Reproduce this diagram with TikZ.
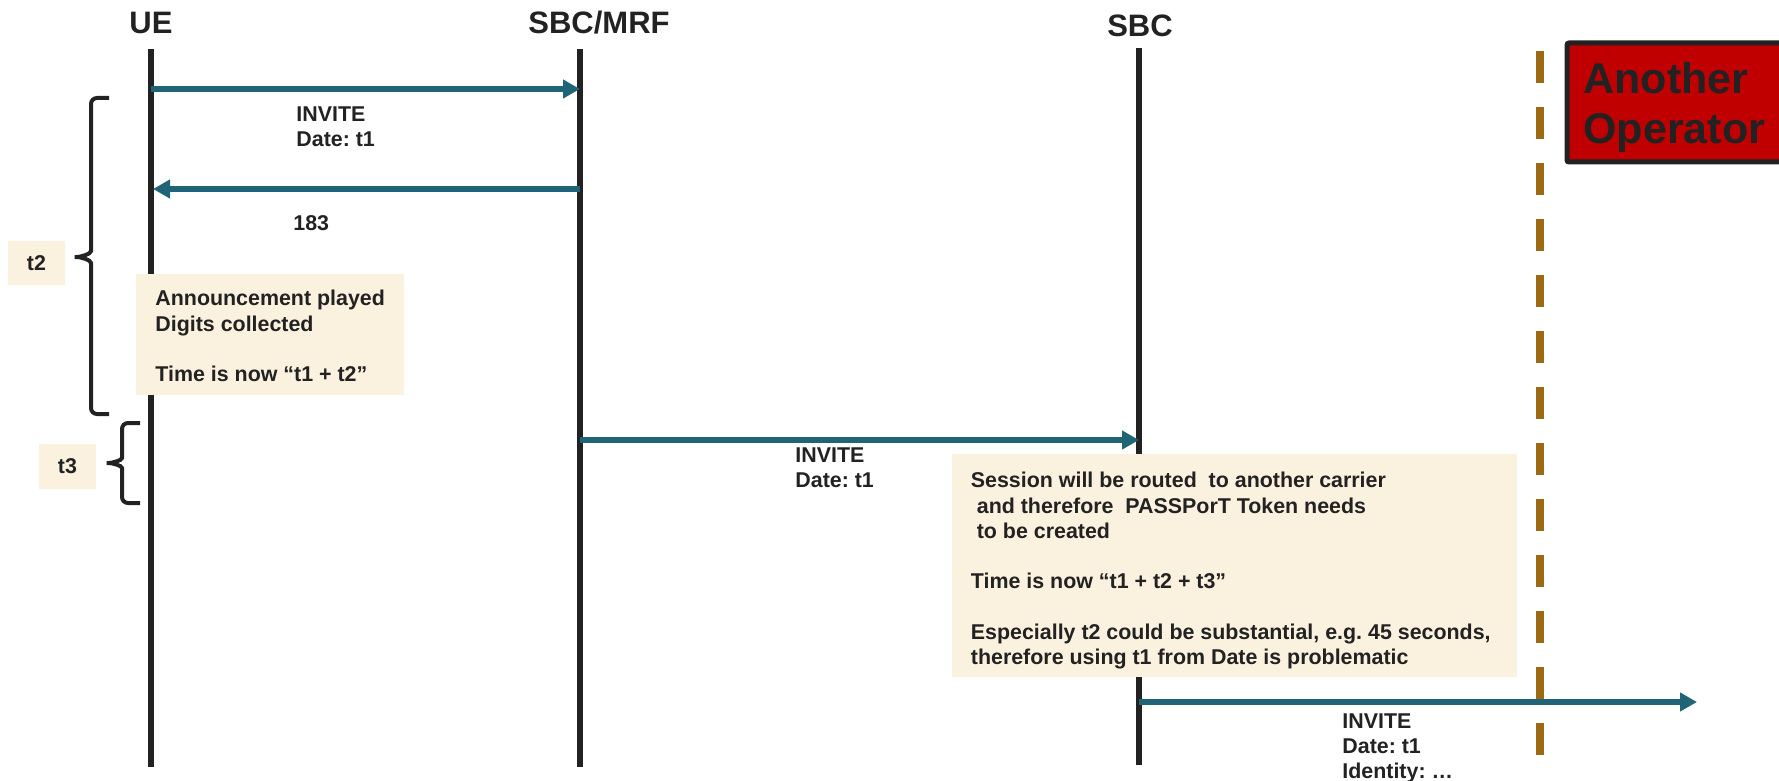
\documentclass[tikz,border=0pt]{standalone}
\usepackage{fontspec}
\setmainfont{Liberation Sans}
\frenchspacing
\usetikzlibrary{arrows.meta}
\definecolor{msgteal}{RGB}{31,100,119}
\definecolor{inkgray}{RGB}{34,34,34}
\definecolor{notecream}{RGB}{251,241,223}
\definecolor{borderbrown}{RGB}{155,106,18}
\definecolor{operatorred}{RGB}{192,0,0}
\tikzstyle{actor} = [font=\fontsize{15.5}{18}\selectfont\bfseries, text=inkgray, anchor=base, inner sep=0pt]
\tikzstyle{lifeline} = [line width=3pt, draw=inkgray]
\tikzstyle{border} = [line width=4pt, draw=borderbrown, dash pattern=on 16pt off 12pt]
\tikzstyle{msg} = [line width=3pt, draw=msgteal, -{Triangle[length=8.5pt,width=9pt]}]
\tikzstyle{msgtext} = [font=\fontsize{10.7}{12.6}\selectfont\bfseries, text=inkgray, align=left, anchor=north west, inner sep=0pt]
\tikzstyle{notebox} = [fill=notecream, inner sep=0pt, font=\fontsize{10.7}{12.6}\selectfont\bfseries, text=inkgray]
\tikzstyle{bracket} = [line width=2pt, draw=inkgray, rounded corners=3pt]

\begin{document}
\begin{tikzpicture}[x=0.5pt,y=-0.5pt]
        \useasboundingbox (0,0) rectangle (1779,781);

        \node (ue) [actor] at (151,34) {UE};
        \node (mrf) [actor] at (599,34) {SBC/MRF};
        \node (sbc) [actor] at (1140,36.5) {SBC};

        \coordinate (ue top) at (151,49);
        \coordinate (ue bot) at (151,767);
        \coordinate (mrf top) at (580,49);
        \coordinate (mrf bot) at (580,767);
        \coordinate (sbc top) at (1139,48);
        \coordinate (sbc bot) at (1139,765);
        \coordinate (edge top) at (1540,51);
        \coordinate (edge bot) at (1540,755);

        \draw [lifeline] (ue top) -- (ue bot);
        \draw [lifeline] (mrf top) -- (mrf bot);
        \draw [lifeline] (sbc top) -- (sbc bot);
        \draw [border] (edge top) -- (edge bot);

        % operator box, cut by the right edge
        \node (opbox) [draw=inkgray, line width=2.5pt, fill=operatorred, rounded corners=1pt, inner sep=0pt, anchor=north west, minimum width=118pt, minimum height=59.5pt] at (1564.5,40.5) {};
        \node (optext) [font=\fontsize{21.5}{25}\selectfont\bfseries, text=inkgray, align=left, anchor=north west, inner sep=0pt] at (1583,62) {Another\\Operator};

        \coordinate (inv1 s) at (151,89);
        \coordinate (inv1 e) at (580,89);
        \coordinate (ack s) at (580,189);
        \coordinate (ack e) at (153,189);
        \coordinate (inv2 s) at (580,440);
        \coordinate (inv2 e) at (1139,440);
        \coordinate (inv3 s) at (1139,702);
        \coordinate (inv3 e) at (1697,702);

        \draw [msg] (inv1 s) -- (inv1 e);
        \draw [msg] (ack s) -- (ack e);
        \draw [msg] (inv2 s) -- (inv2 e);
        \draw [msg] (inv3 s) -- (inv3 e);

        \node (inv1) [msgtext] at (296,106) {INVITE\\Date: t1};
        \node (ack) [msgtext] at (293,215) {183};
        \node (inv2) [msgtext] at (795,447.5) {INVITE\\Date: t1};
        \node (inv3) [msgtext] at (1342,713) {INVITE\\Date: t1\\Identity: …};

        % notes
        \node (annbox) [notebox, minimum width=134pt, minimum height=60.5pt] at (270,334.5) {};
        \node (anntext) [msgtext] at (155,290) {Announcement played\\Digits collected\\ \\Time is now “t1 + t2”};
        \node (sessbox) [notebox, minimum width=282.5pt, minimum height=111.5pt] at (1234.5,565) {};
        \node (sesstext) [msgtext] at (970.5,472) {Session will be routed\ \ to another carrier\\\ and therefore\ \ PASSPorT Token needs\\\ to be created\\ \\Time is now “t1 + t2 + t3”\\ \\Especially t2 could be substantial, e.g. 45 seconds,\\therefore using t1 from Date is problematic};

        % time spans
        \node (ttwo) [notebox, minimum width=28.5pt, minimum height=22pt] at (36.5,263) {t2};
        \node (tthree) [notebox, minimum width=28.5pt, minimum height=22.5pt] at (67.5,466.5) {t3};
        \draw [bracket] (109,98) -- (91,98) -- (91,245) to[out=270,in=0] (71,257) to[out=0,in=90] (91,269) -- (91,414) -- (109,414);
        \draw [bracket] (140,423) -- (122,423) -- (122,452) to[out=270,in=0] (103,463) to[out=0,in=90] (122,474) -- (122,503) -- (140,503);
\end{tikzpicture}
\end{document}
